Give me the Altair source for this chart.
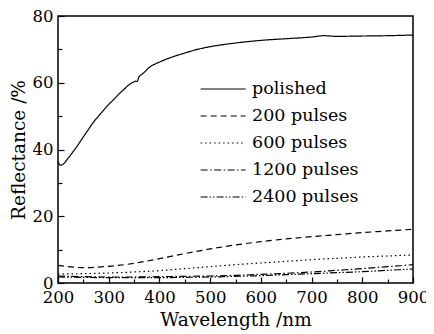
import altair as alt
import pandas as pd

# Polished sample (fine grid)
wl_polished = [200, 205, 210, 220, 230, 240, 250, 260, 270, 280, 290, 300, 310, 320, 330,
               340, 350, 353, 356, 360, 365, 370, 380, 390, 400, 425, 450, 475, 500, 550,
               600, 650, 700, 725, 750, 800, 850, 900]
r_polished = [36.3, 35.3, 35.6, 37.4, 39.4, 41.5, 43.8, 46.0, 48.2, 50.0, 51.8, 53.5, 55.0,
              56.6, 58.0, 59.4, 60.3, 60.5, 60.4, 61.8, 62.5, 63.1, 64.6, 65.5, 66.2, 67.7,
              68.9, 70.0, 70.8, 71.9, 72.7, 73.2, 73.7, 74.1, 73.9, 74.0, 74.1, 74.3]

# Laser-treated samples (coarse grid)
wl_other = [200, 250, 300, 350, 400, 450, 500, 550, 600, 650, 700, 750, 800, 850, 900]
r_200 = [5.3, 4.6, 5.0, 5.9, 7.3, 8.8, 10.2, 11.4, 12.4, 13.2, 13.9, 14.5, 15.1, 15.6, 16.1]
r_600 = [2.7, 2.8, 3.0, 3.3, 3.7, 4.3, 4.9, 5.5, 6.0, 6.5, 7.0, 7.4, 7.8, 8.1, 8.4]
r_1200 = [2.1, 1.9, 1.8, 1.8, 1.9, 2.0, 2.1, 2.3, 2.6, 2.9, 3.3, 3.8, 4.3, 4.9, 5.5]
r_2400 = [1.8, 1.7, 1.6, 1.6, 1.6, 1.7, 1.8, 2.0, 2.2, 2.5, 2.8, 3.1, 3.4, 3.8, 4.2]

series_order = ["polished", "200 pulses", "600 pulses", "1200 pulses", "2400 pulses"]
dashes = [[1, 0], [6, 4], [1.5, 3], [7, 2.5, 1.5, 2.5], [7, 2, 1.5, 2, 1.5, 2]]

x_major = [200, 300, 400, 500, 600, 700, 800, 900]
x_minor = [250, 350, 450, 550, 650, 750, 850]
y_major = [0, 20, 40, 60, 80]
y_minor = [10, 30, 50, 70]

rows = []
for w, r in zip(wl_polished, r_polished):
    rows.append({"wl": w, "R": r, "series": "polished"})
for name, vals in zip(series_order[1:], [r_200, r_600, r_1200, r_2400]):
    for w, r in zip(wl_other, vals):
        rows.append({"wl": w, "R": r, "series": name})
df = pd.DataFrame(rows)

FONT = "DejaVu Serif"
W, H = 355, 267

xscale = alt.Scale(domain=[200, 900], nice=False, zero=False)
yscale = alt.Scale(domain=[0, 80], nice=False, zero=False)

main = alt.Chart(df).mark_line(color="black", strokeWidth=1.2, interpolate="monotone").encode(
    x=alt.X("wl:Q", scale=xscale,
            axis=alt.Axis(orient="bottom", values=x_major, title="Wavelength /nm", offset=-6,
                          tickSize=6, tickWidth=1.2, tickColor="black", domain=False, grid=False,
                          labelPadding=6, labelFont=FONT, labelFontSize=16.5, labelColor="black",
                          titleFont=FONT, titleFontSize=18.5, titleFontWeight="normal",
                          titleColor="black", titlePadding=5, labelFlush=False)),
    y=alt.Y("R:Q", scale=yscale,
            axis=alt.Axis(orient="left", values=y_major, title="Reflectance /%", offset=-6,
                          tickSize=6, tickWidth=1.2, tickColor="black", domain=False, grid=False,
                          labelPadding=5, labelFont=FONT, labelFontSize=16.5, labelColor="black",
                          titleFont=FONT, titleFontSize=18.5, titleFontWeight="normal",
                          titleColor="black", titlePadding=4, labelFlush=False)),
    strokeDash=alt.StrokeDash("series:N", sort=series_order,
                              scale=alt.Scale(domain=series_order, range=dashes),
                              legend=alt.Legend(orient="none", legendX=142, legendY=63, title=None,
                                                symbolType="M-1,0L3.81,0", symbolSize=350,
                                                symbolStrokeWidth=1.2, symbolStrokeColor="black",
                                                symbolFillColor="transparent",
                                                labelFont=FONT, labelFontSize=17.5, labelColor="black",
                                                labelOffset=32, rowPadding=8, padding=0)),
)

minor = alt.Chart(df).mark_line(opacity=0).encode(
    x=alt.X("wl:Q", scale=xscale,
            axis=alt.Axis(orient="bottom", values=x_minor, title=None, labels=False, offset=-4,
                          tickSize=4, tickWidth=1.2, tickColor="black", domain=False, grid=False)),
    y=alt.Y("R:Q", scale=yscale,
            axis=alt.Axis(orient="left", values=y_minor, title=None, labels=False, offset=-4,
                          tickSize=4, tickWidth=1.2, tickColor="black", domain=False, grid=False)),
    detail="series:N",
)

chart = alt.layer(main, minor).resolve_scale(
    x="independent", y="independent"
).resolve_axis(
    x="independent", y="independent"
).properties(
    width=W, height=H,
    autosize=alt.AutoSizeParams(type="none"),
    padding={"left": 50, "top": 8, "right": 13, "bottom": 51},
    background="white",
).configure_view(stroke="black", strokeWidth=1.5)

chart.save("out.html", embed_options={"renderer": "svg", "actions": False})
